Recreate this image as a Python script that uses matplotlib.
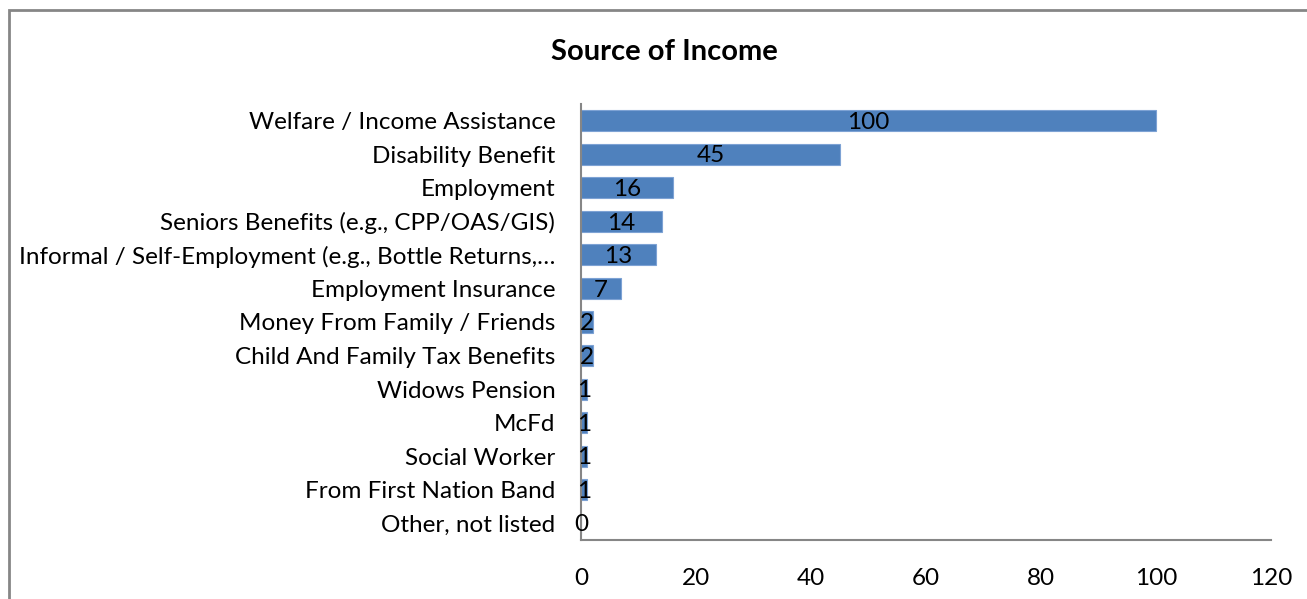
import matplotlib.pyplot as plt
from matplotlib.patches import Rectangle

categories = [
    "Welfare / Income Assistance",
    "Disability Benefit",
    "Employment",
    "Seniors Benefits (e.g., CPP/OAS/GIS)",
    "Informal / Self-Employment (e.g., Bottle Returns,\u2026",
    "Employment Insurance",
    "Money From Family / Friends",
    "Child And Family Tax Benefits",
    "Widows Pension",
    "McFd",
    "Social Worker",
    "From First Nation Band",
    "Other, not listed",
]
counts = [100, 45, 16, 14, 13, 7, 2, 2, 1, 1, 1, 1, 0]
xticks = [0, 20, 40, 60, 80, 100, 120]

plt.rcParams['font.family'] = ['Lato', 'DejaVu Sans']

fig = plt.figure(figsize=(13.07, 5.99), dpi=100)
ax = fig.add_axes([581 / 1307, 1 - 540 / 599, 690 / 1307, 436 / 599])

pos = list(range(len(categories)))
ax.barh(pos, counts, height=0.63, color='#4F81BD', edgecolor='#7DA2D4', linewidth=0.8)
for p, v in zip(pos, counts):
    ax.text(v / 2, p + 0.05, str(v), ha='center', va='center', fontsize=17.5, color='black')

ax.set_xlim(0, 120)
ax.set_ylim(len(categories) - 0.5, -0.5)
ax.set_yticks(pos)
ax.set_yticklabels(categories, fontsize=17.5)
ax.set_xticks(xticks)
ax.set_xticklabels([str(t) for t in xticks], fontsize=17.5)
ax.tick_params(axis='both', length=0)
ax.tick_params(axis='y', pad=18.5)
ax.tick_params(axis='x', pad=20)
for side in ['top', 'right']:
    ax.spines[side].set_visible(False)
for side in ['left', 'bottom']:
    ax.spines[side].set_color('#868686')
    ax.spines[side].set_linewidth(1.5)

fig.text(664 / 1307, 1 - 52 / 599, "Source of Income", ha='center', va='center',
         fontsize=21, fontweight='bold')

fig.patches.append(Rectangle((9 / 1307, -0.1), 1.2, 1 - 10 / 599 + 0.1, transform=fig.transFigure,
                             fill=False, edgecolor='#868686', linewidth=2, clip_on=False))

fig.savefig('out.png', dpi=100)
